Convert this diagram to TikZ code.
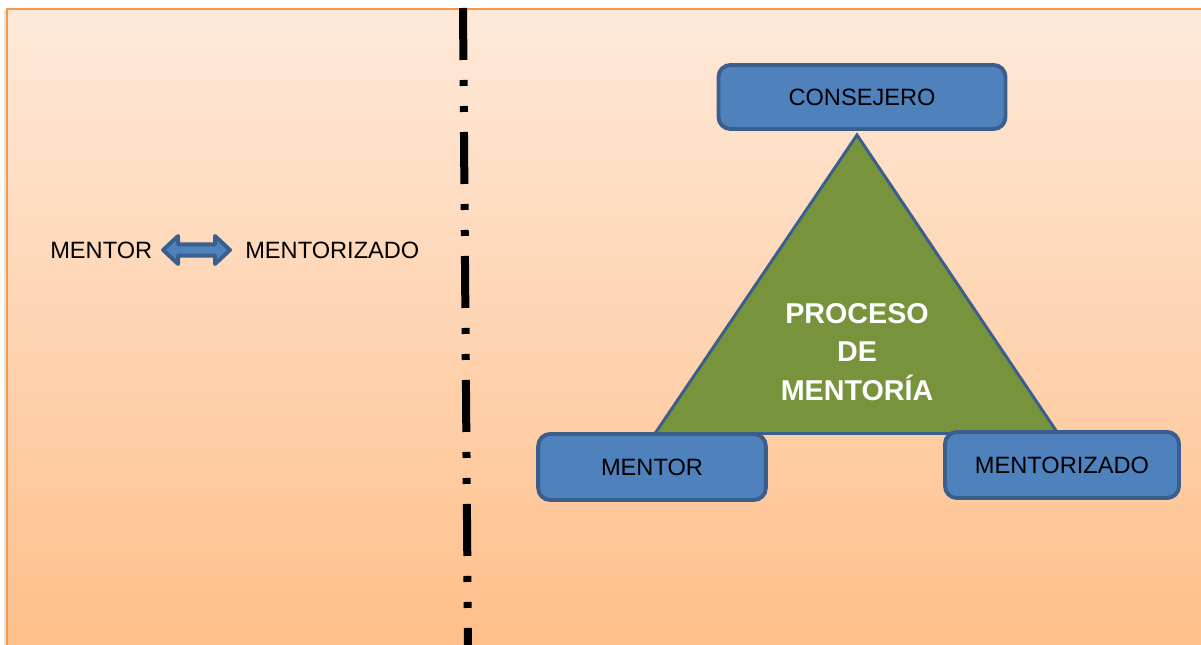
\documentclass[tikz,border=0pt]{standalone}
\usepackage{fontspec}
\setmainfont{Liberation Sans}
\usetikzlibrary{positioning}

\definecolor{bgtop}{HTML}{FEE9D9}
\definecolor{bgbot}{HTML}{FFBF8A}
\definecolor{bgline}{HTML}{F79646}
\definecolor{boxfill}{HTML}{4F81BD}
\definecolor{boxline}{HTML}{3B5F8D}
\definecolor{trifill}{HTML}{77933C}

\tikzset{
	rolebox/.style={draw=boxline, fill=boxfill, line width=2.8pt, rounded corners=0.3cm,
		minimum height=1.65cm, inner sep=0pt, font=\fontsize{16.8}{20}\selectfont},
	plain/.style={inner sep=0pt, font=\fontsize{16.8}{20}\selectfont},
	arrowshape/.style={draw=boxline, fill=boxfill, line width=2.8pt, line join=round}
}

\begin{document}
\begin{tikzpicture}
		\useasboundingbox (0,0) rectangle (30.025,16.1);
		
		% background
		\fill[black!10] (0.1,-0.1) rectangle (0.175,15.85);
		\shade[top color=bgtop, bottom color=bgbot] (0.175,-0.1) rectangle (30.1,15.875);
		\draw[bgline, line width=2pt] (0.175,-0.1) -- (0.175,15.875) -- (30.1,15.875);
		
		% dividing line
		\draw[line width=0.2cm, dash pattern=on 1.3cm off 0.5cm on 0.15cm off 0.5cm on 0.15cm off 0.5cm]
			(11.575,15.9) -- (11.7,-0.1);
		
		% left side
		\node[plain, anchor=west] (lmentor) at (1.25,9.85) {MENTOR};
		\node[plain, anchor=west] (lmentee) at (6.125,9.85) {MENTORIZADO};
		\coordinate (al) at ([xshift=0.265cm]lmentor.east);
		\coordinate (ar) at ([xshift=-0.375cm]lmentee.west);
		\draw[arrowshape] (al) -- ++(0.375,0.35) -- ++(0,-0.21) -- ([xshift=-0.375cm,yshift=0.14cm]ar)
			-- ++(0,0.21) -- (ar) -- ++(-0.375,-0.35) -- ++(0,0.21) -- ([xshift=0.375cm,yshift=-0.14cm]al)
			-- ++(0,-0.21) -- cycle;
		
		% triangle
		\coordinate (top) at (21.425,12.725);
		\coordinate (bl) at (16.375,5.2625);
		\coordinate (br) at (26.45,5.2625);
		\draw[boxline, fill=trifill, line width=2.1pt] (top) -- (br) -- (bl) -- cycle;
		\node[align=center, text=white, font=\bfseries\fontsize{20.4}{27.4}\selectfont] (proceso)
			at (21.425,7.3) {PROCESO\\DE\\MENTORÍA};
		
		% roles
		\node[rolebox, minimum width=7.175cm, minimum height=1.6cm] (consejero) at (21.55,13.675) {CONSEJERO};
		\node[rolebox, minimum width=5.69cm] (mentor) at (16.3,4.425) {MENTOR};
		\node[rolebox, minimum width=5.85cm] (mentee) at (26.55,4.475) {MENTORIZADO};
	\end{tikzpicture}
\end{document}
